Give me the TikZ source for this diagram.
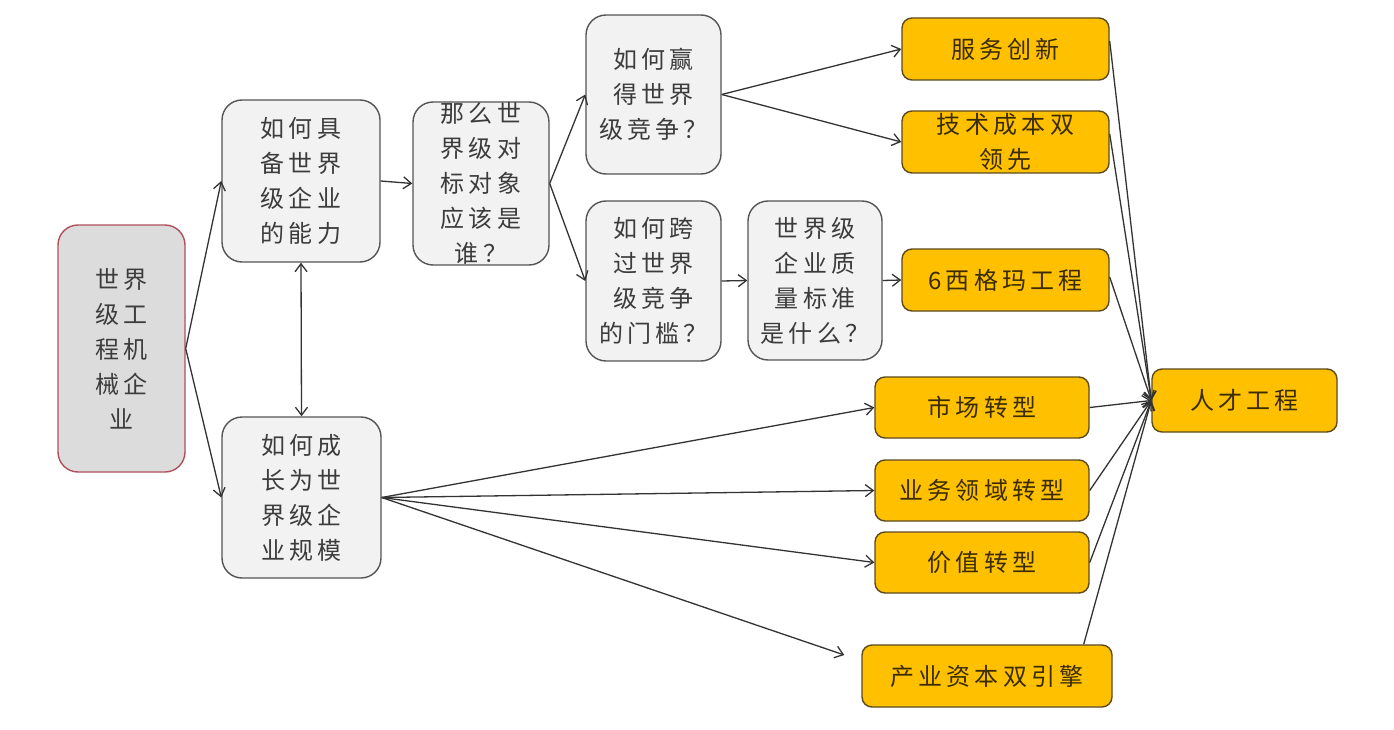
\documentclass[tikz,border=0pt]{standalone}
\usepackage{fontspec}
\newfontfamily\cjk[LetterSpace=18]{Noto Sans CJK SC}
\usetikzlibrary{arrows.meta,calc}
\definecolor{graybox}{HTML}{F2F2F2}
\definecolor{rootbox}{HTML}{DCDCDC}
\definecolor{rootline}{HTML}{B0505A}
\definecolor{boxline}{HTML}{555555}
\definecolor{goldbox}{HTML}{FFC000}
\definecolor{goldline}{HTML}{5A4A1E}
\definecolor{graytext}{HTML}{3C3C3C}
\definecolor{goldtext}{HTML}{3A2C00}
\definecolor{arrline}{HTML}{333333}
\begin{document}
\begin{tikzpicture}[x=1pt,y=-1pt,
  qbox/.style={draw=boxline,fill=graybox,line width=1.4pt,rounded corners=20pt,
    inner sep=0pt,align=center,text=graytext,
    font=\cjk\fontsize{24}{35}\selectfont},
  rootnode/.style={qbox,draw=rootline,fill=rootbox},
  gbox/.style={draw=goldline,fill=goldbox,line width=1.4pt,rounded corners=10pt,
    inner sep=0pt,align=center,text=goldtext,
    font=\cjk\fontsize{24}{35}\selectfont},
  arr/.style={draw=arrline,line width=1.3pt,-{Straight Barb[length=8pt,width=12pt,line width=1.3pt]}},
  dblarr/.style={draw=arrline,line width=1.3pt,{Straight Barb[length=8pt,width=12pt,line width=1.3pt]}-{Straight Barb[length=8pt,width=12pt,line width=1.3pt]}}
]
\useasboundingbox[fill=white] (0,0) rectangle (1394,730);

% gray question nodes
\node[rootnode,minimum width=127pt,minimum height=247pt] (A) at (121.5,348.5) {世界\\级工\\程机\\械企\\业};
\node[qbox,minimum width=158pt,minimum height=162pt] (B) at (301,181) {如何具\\备世界\\级企业\\的能力};
\node[qbox,minimum width=159pt,minimum height=161pt] (C) at (301.5,497.5) {如何成\\长为世\\界级企\\业规模};
\node[qbox,minimum width=136pt,minimum height=163pt] (D) at (481,183.5) {那么世\\界级对\\标对象\\应该是\\谁？};
\node[qbox,minimum width=135pt,minimum height=159pt] (E) at (653.5,94.5) {如何赢\\得世界\\级竞争？};
\node[qbox,minimum width=135pt,minimum height=160pt] (F) at (653.5,281) {如何跨\\过世界\\级竞争\\的门槛？};
\node[qbox,minimum width=134pt,minimum height=159pt] (G) at (815,280.5) {世界级\\企业质\\量标准\\是什么？};

% gold nodes
\node[gbox,minimum width=207pt,minimum height=62pt] (H) at (1005.5,49) {服务创新};
\node[gbox,minimum width=207pt,minimum height=62pt] (I) at (1005.5,142) {技术成本双\\领先};
\node[gbox,minimum width=207pt,minimum height=62pt] (J) at (1005.5,280) {6西格玛工程};
\node[gbox,minimum width=214pt,minimum height=61pt] (K) at (982,407.5) {市场转型};
\node[gbox,minimum width=214pt,minimum height=61pt] (L) at (982,490.5) {业务领域转型};
\node[gbox,minimum width=214pt,minimum height=61pt] (M) at (982,562.5) {价值转型};
\node[gbox,minimum width=250pt,minimum height=62pt] (N) at (987,676) {产业资本双引擎};
\node[gbox,minimum width=185pt,minimum height=63pt] (O) at (1244.5,400.5) {人才工程};

\coordinate (Nend) at ($(N.west)+(-17,-21)$);

% connectors
\draw[arr] (A.east) -- (B.west);
\draw[arr] (A.east) -- (C.west);
\draw[dblarr] (B.south) -- (C.north);
\draw[arr] (B.east) -- (D.west);
\draw[arr] (D.east) -- (E.west);
\draw[arr] (D.east) -- (F.west);
\draw[arr] (E.east) -- (H.west);
\draw[arr] (E.east) -- (I.west);
\draw[arr] (F.east) -- (G.west);
\draw[arr] (G.east) -- (J.west);
\draw[arr] (C.east) -- (K.west);
\draw[arr] (C.east) -- (L.west);
\draw[arr] (C.east) -- (M.west);
\draw[arr] (C.east) -- (Nend);
\draw[arr] ([yshift=8pt]H.east) -- (O.west);
\draw[arr] ([yshift=8pt]I.east) -- (O.west);
\draw[arr] ([yshift=3pt]J.east) -- (O.west);
\draw[arr] (K.east) -- (O.west);
\draw[arr] (L.east) -- (O.west);
\draw[arr] (M.east) -- (O.west);
\draw[arr] ([xshift=-29pt]N.north east) -- (O.west);
\end{tikzpicture}
\end{document}
